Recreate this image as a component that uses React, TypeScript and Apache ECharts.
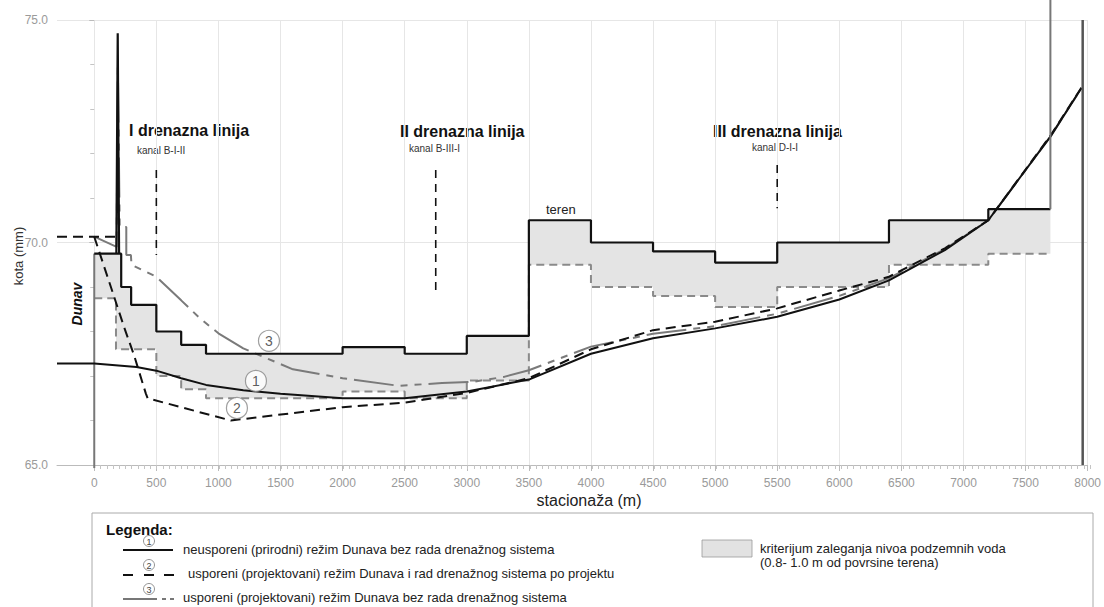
import React, { useEffect, useRef } from 'react';
import * as echarts from 'echarts';

// ---------- data ----------
const xTickValues = [0, 500, 1000, 1500, 2000, 2500, 3000, 3500, 4000, 4500, 5000, 5500, 6000, 6500, 7000, 7500, 8000];
const xFineTicks = Array.from({ length: 161 }, (_, i) => i * 50);

// terrain (teren) step line
const terrain: number[][] = [
  [0, 69.75], [217, 69.75], [217, 69.0], [297, 69.0], [297, 68.6], [500, 68.6], [500, 68.0],
  [700, 68.0], [700, 67.7], [900, 67.7], [900, 67.5], [2000, 67.5], [2000, 67.65], [2500, 67.65],
  [2500, 67.5], [3000, 67.5], [3000, 67.9], [3500, 67.9], [3500, 70.5], [4000, 70.5], [4000, 70.0],
  [4500, 70.0], [4500, 69.8], [5000, 69.8], [5000, 69.55], [5500, 69.55], [5500, 70.0], [6400, 70.0],
  [6400, 70.5], [7200, 70.5], [7200, 70.75], [7700, 70.75],
];
// levee crest spike near the river
const levee: number[][] = [[178, 69.75], [189, 74.7], [200, 69.75]];
// criterion lower limit (1.0 m below terrain)
const criterion: number[][] = [
  [0, 68.75], [175, 68.75], [175, 67.6], [500, 67.6], [500, 67.0], [700, 67.0], [700, 66.7],
  [900, 66.7], [900, 66.5], [2000, 66.5], [2000, 66.65], [2500, 66.65], [2500, 66.5], [3000, 66.5],
  [3000, 66.9], [3500, 66.9], [3500, 69.5], [4000, 69.5], [4000, 69.0], [4500, 69.0], [4500, 68.8],
  [5000, 68.8], [5000, 68.55], [5500, 68.55], [5500, 69.0], [6400, 69.0], [6400, 69.5], [7200, 69.5],
  [7200, 69.75], [7700, 69.75],
];
// (1) natural regime without drainage
const curve1: number[][] = [
  [-300, 67.28], [0, 67.28], [340, 67.2], [500, 67.12], [700, 66.95], [900, 66.8], [1200, 66.68],
  [1500, 66.6], [2000, 66.5], [2500, 66.5], [3000, 66.65], [3500, 66.92], [4000, 67.5], [4500, 67.85],
  [5000, 68.07], [5500, 68.33], [6000, 68.72], [6400, 69.15], [6850, 69.83], [7200, 70.5], [7700, 72.38],
  [7950, 73.47],
];
// (2) projected regime with drainage
const curve2River: number[][] = [[-300, 70.13], [180, 70.13]];
const curve2: number[][] = [
  [0, 70.13], [160, 68.78], [240, 68.1], [320, 67.47], [415, 66.61], [430, 66.5], [1100, 66.0],
  [2000, 66.3], [2500, 66.4], [3000, 66.62], [3500, 66.95], [4000, 67.6], [4500, 68.03], [5000, 68.22],
  [5500, 68.52], [6000, 68.92], [6400, 69.23], [6850, 69.87], [7200, 70.5], [7700, 72.4], [7950, 73.48],
];
// (3) projected regime without drainage
const curve3: number[][] = [
  [0, 70.13], [180, 69.9], [190, 74.0], [205, 70.35], [258, 70.35], [258, 69.72], [295, 69.72],
  [300, 69.5], [500, 69.23], [700, 68.7], [850, 68.3], [1000, 67.96], [1200, 67.62], [1600, 67.15],
  [2000, 66.95], [2450, 66.78], [2800, 66.84], [3050, 66.87], [3300, 66.98], [3500, 67.13], [4000, 67.66],
  [4500, 67.95], [5000, 68.12], [5500, 68.4], [6000, 68.8], [6400, 69.2], [6850, 69.85], [7200, 70.5],
  [7700, 72.38], [7950, 73.47],
];
// vertical structure lines
const riverBank: number[][] = [[0, 69.75], [0, 64.93]];
const terrainEnd: number[][] = [[7700, 70.75], [7700, 75.45]];
const rightBorder: number[][] = [[7960, 65], [7960, 75]];
// drainage channels
const channelX = [500, 2750, 5500];
const channelTop = [71.63, 71.63, 71.74];
const channelBottom = [69.72, 68.86, 70.77];
// circled curve labels
const circleX = [1302, 1149, 1407];
const circleY = [66.89, 66.28, 67.79];
const circleText = ['1', '2', '3'];

const FONT = '"Liberation Sans", Arial, Helvetica, sans-serif';

export default function App() {
  const ref = useRef<HTMLDivElement>(null);
  useEffect(() => {
    if (!ref.current) return;
    const chart = echarts.init(ref.current, null, { renderer: 'svg' });

    const lineBase = { type: 'line', showSymbol: false, symbol: 'none', silent: true, animation: false };

    const channelSeries = channelX.map((x, i) => ({
      ...lineBase,
      name: 'kanal' + i,
      data: [[x, channelTop[i]], [x, channelBottom[i]]],
      lineStyle: { color: '#111', width: 1.6, type: [8, 6] },
      z: 6,
    }));

    const text = (t: string, x: number, y: number, font: string, extra: any = {}) => ({
      type: 'text', x, y, silent: true,
      style: { text: t, font, fill: '#111', textAlign: 'left', textVerticalAlign: 'middle', ...extra },
    });

    const legendGraphics: any[] = [
      { type: 'rect', shape: { x: 92, y: 513, width: 1001, height: 110 }, style: { fill: 'none', stroke: '#aaa', lineWidth: 1 } },
      text('Legenda:', 106, 529, `bold 15px ${FONT}`),
      // row 1
      { type: 'line', shape: { x1: 123, y1: 550, x2: 173, y2: 550 }, style: { stroke: '#111', lineWidth: 2 } },
      { type: 'circle', shape: { cx: 149, cy: 541, r: 5.5 }, style: { fill: '#fff', stroke: '#777', lineWidth: 0.8 } },
      text('1', 149, 541.5, `9px ${FONT}`, { textAlign: 'center', fill: '#444' }),
      text('neusporeni (prirodni) režim Dunava bez rada drenažnog sistema', 183, 549, `13px ${FONT}`, { fill: '#222' }),
      // row 2
      { type: 'line', shape: { x1: 123, y1: 575, x2: 133, y2: 575 }, style: { stroke: '#111', lineWidth: 2 } },
      { type: 'line', shape: { x1: 144, y1: 575, x2: 154, y2: 575 }, style: { stroke: '#111', lineWidth: 2 } },
      { type: 'line', shape: { x1: 164, y1: 575, x2: 174, y2: 575 }, style: { stroke: '#111', lineWidth: 2 } },
      { type: 'circle', shape: { cx: 149, cy: 565, r: 5.5 }, style: { fill: '#fff', stroke: '#777', lineWidth: 0.8 } },
      text('2', 149, 565.5, `9px ${FONT}`, { textAlign: 'center', fill: '#444' }),
      text('usporeni (projektovani) režim Dunava i rad drenažnog sistema po projektu', 188, 573, `13px ${FONT}`, { fill: '#222' }),
      // row 3
      { type: 'line', shape: { x1: 123, y1: 599, x2: 157, y2: 599 }, style: { stroke: '#777', lineWidth: 2 } },
      { type: 'line', shape: { x1: 162, y1: 599, x2: 166, y2: 599 }, style: { stroke: '#777', lineWidth: 2 } },
      { type: 'line', shape: { x1: 170, y1: 599, x2: 174, y2: 599 }, style: { stroke: '#777', lineWidth: 2 } },
      { type: 'circle', shape: { cx: 149, cy: 589, r: 5.5 }, style: { fill: '#fff', stroke: '#777', lineWidth: 0.8 } },
      text('3', 149, 589.5, `9px ${FONT}`, { textAlign: 'center', fill: '#444' }),
      text('usporeni (projektovani) režim Dunava bez rada drenažnog sistema', 183, 597, `13px ${FONT}`, { fill: '#222' }),
      // fill legend
      { type: 'rect', shape: { x: 702, y: 540, width: 50, height: 17 }, style: { fill: '#e2e2e2', stroke: '#999', lineWidth: 0.8 } },
      text('kriterijum zaleganja nivoa podzemnih voda', 760, 548, `13px ${FONT}`, { fill: '#222' }),
      text('(0.8- 1.0 m od povrsine terena)', 760, 562, `13px ${FONT}`, { fill: '#222' }),
    ];

    const annotations: any[] = [
      text('I drenazna linija', 129, 130, `bold 16px ${FONT}`),
      text('kanal B-I-II', 137, 150, `10px ${FONT}`, { fill: '#333' }),
      text('II drenazna linija', 400, 131, `bold 16px ${FONT}`),
      text('kanal B-III-I', 409, 148, `10px ${FONT}`, { fill: '#333' }),
      text('III drenazna linija', 713, 131, `bold 16px ${FONT}`),
      text('kanal D-I-I', 752, 147, `10px ${FONT}`, { fill: '#333' }),
      text('teren', 546, 209, `13px ${FONT}`, { fill: '#222' }),
      { ...text('Dunav', 77, 304, `italic bold 14px ${FONT}`, { textAlign: 'center' }), rotation: Math.PI / 2 },
      { ...text('kota (mm)', 18, 256, `13px ${FONT}`, { textAlign: 'center', fill: '#333' }), rotation: Math.PI / 2 },
      text('stacionaža (m)', 589, 500, `16px ${FONT}`, { textAlign: 'center', fill: '#222' }),
    ];

    const gridBox = { left: 57, right: 14, top: 20, bottom: 142, containLabel: false };

    const option: any = {
      animation: false,
      backgroundColor: '#fff',
      textStyle: { fontFamily: FONT },
      grid: [gridBox, { ...gridBox }],
      xAxis: [
        {
          type: 'value', min: -300, max: 8000, gridIndex: 0,
          axisLine: { show: true, lineStyle: { color: '#bbb', width: 1 } },
          axisTick: { show: true, customValues: xTickValues, length: 6, lineStyle: { color: '#bbb' } },
          axisLabel: {
            customValues: xTickValues, color: '#9a9a9a', fontSize: 12, margin: 12, fontFamily: FONT,
            formatter: (v: number) => String(v),
          },
          splitLine: { show: true, lineStyle: { color: '#e6e6e6', width: 1 } },
        },
        {
          type: 'value', min: -300, max: 8000, gridIndex: 1, position: 'bottom',
          axisLine: { show: false },
          axisTick: { show: true, customValues: xFineTicks, length: 4, lineStyle: { color: '#c4c4c4' } },
          axisLabel: { show: false },
          splitLine: { show: false },
        },
      ],
      yAxis: [
        {
          type: 'value', min: 65, max: 75, interval: 5, gridIndex: 0,
          axisLine: { show: false },
          axisTick: { show: true, length: 5, lineStyle: { color: '#bbb' } },
          minorTick: { show: true, splitNumber: 5, length: 4, lineStyle: { color: '#c4c4c4' } },
          axisLabel: { color: '#9a9a9a', fontSize: 12, margin: 9, fontFamily: FONT, formatter: (v: number) => v.toFixed(1) },
          splitLine: { show: true, lineStyle: { color: '#e6e6e6', width: 1 } },
        },
        {
          type: 'value', min: 65, max: 75, interval: 5, gridIndex: 1, show: false,
        },
      ],
      graphic: [...annotations, ...legendGraphics],
      series: [
        {
          type: 'custom', name: 'band', silent: true, z: 1,
          data: [[0, 68]],
          renderItem: (params: any, api: any) => {
            if (params.dataIndex !== 0) return null;
            const pts = terrain.map((p) => api.coord(p)).concat(
              criterion.slice().reverse().map((p) => api.coord(p))
            );
            return { type: 'polygon', shape: { points: pts }, style: { fill: '#e4e4e4', stroke: 'none' } };
          },
        },
        { ...lineBase, name: 'criterion', data: criterion, z: 2, lineStyle: { color: '#8a8a8a', width: 2, type: [8, 5] } },
        { ...lineBase, name: 'riverBank', data: riverBank, z: 3, clip: false, lineStyle: { color: '#777', width: 2 } },
        { ...lineBase, name: 'curve3', data: curve3, z: 3, lineStyle: { color: '#7a7a7a', width: 2, type: [40, 7, 7, 7, 7, 7] } },
        { ...lineBase, name: 'curve1', data: curve1, z: 4, lineStyle: { color: '#111', width: 2 } },
        { ...lineBase, name: 'curve2', data: curve2, z: 5, lineStyle: { color: '#111', width: 2, type: [10, 6] } },
        { ...lineBase, name: 'curve2River', data: curve2River, z: 5, lineStyle: { color: '#111', width: 2, type: [10, 6] } },
        { ...lineBase, name: 'terrain', data: terrain, z: 6, lineStyle: { color: '#111', width: 2.2 } },
        { ...lineBase, name: 'levee', data: levee, z: 6, lineStyle: { color: '#111', width: 2.2 } },
        { ...lineBase, name: 'terrainEnd', data: terrainEnd, z: 6, clip: false, lineStyle: { color: '#777', width: 2 } },
        { ...lineBase, name: 'rightBorder', data: rightBorder, z: 6, clip: false, lineStyle: { color: '#555', width: 2.5 } },
        ...channelSeries,
        {
          type: 'scatter', name: 'circles', silent: true, z: 8,
          data: circleX.map((x, i) => [x, circleY[i], circleText[i]]),
          symbol: 'circle', symbolSize: 21,
          itemStyle: { color: '#fff', borderColor: '#888', borderWidth: 1.2 },
          label: { show: true, position: 'inside', formatter: (p: any) => p.value[2], color: '#333', fontSize: 14, fontFamily: FONT },
        },
      ],
    };
    chart.setOption(option);
    return () => chart.dispose();
  }, []);
  return <div ref={ref} style={{ position: 'fixed', left: 0, top: 0, width: 1104, height: 607, background: '#fff' }} />;
}
